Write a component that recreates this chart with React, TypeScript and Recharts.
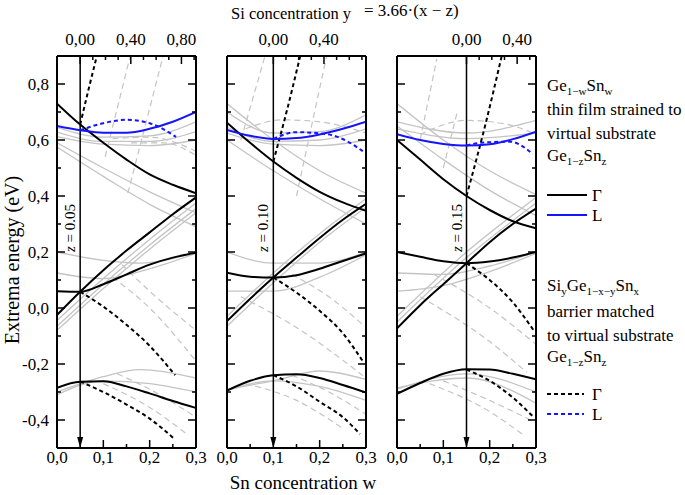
import { LineChart, Line, XAxis, YAxis, ReferenceLine } from "recharts";

type Pt = [number, number];

// plot box of every panel (page pixels)
const PANEL_LEFTS = [57, 227, 397];
const PLOT_W = 139;
const PLOT_TOP = 56;
const PLOT_BOTTOM = 448;
const PAGE_H = 495;

const W_TICKS = [0, 0.05, 0.1, 0.15, 0.2, 0.25, 0.3];
const E_TICKS = [-0.4, -0.3, -0.2, -0.1, 0, 0.1, 0.2, 0.3, 0.4, 0.5, 0.6, 0.7, 0.8];
const SI_TICKS = [0, 0.1, 0.2, 0.3, 0.4, 0.5, 0.6, 0.7, 0.8, 0.9];
const Z_VALUES = [0.05, 0.1, 0.15];

const BLACK = "#000";
const BLUE = "#1414ff";
const GRAY = "#c4c4c4";
const FONT = "Liberation Serif, Times New Roman, serif";

// ---- z = 0.05 ----
const A_G_CB: Pt[] = [[0, 0.73], [0.05, 0.655], [0.1, 0.59], [0.15, 0.53], [0.2, 0.477], [0.25, 0.44], [0.3, 0.41]];
const A_L: Pt[] = [[0, 0.65], [0.05, 0.635], [0.1, 0.626], [0.15, 0.626], [0.2, 0.64], [0.25, 0.665], [0.3, 0.7]];
const A_L_BAR: Pt[] = [[0.05, 0.635], [0.1, 0.66], [0.15, 0.672], [0.2, 0.66], [0.257, 0.611]];
const A_G_BAR_HI: Pt[] = [[0.05, 0.655], [0.068, 0.78], [0.086, 0.9]];
const A_G_UP: Pt[] = [[0, -0.025], [0.05, 0.058], [0.1, 0.135], [0.15, 0.205], [0.2, 0.27], [0.25, 0.335], [0.3, 0.395]];
const A_G_FLAT: Pt[] = [[0, 0.06], [0.05, 0.058], [0.1, 0.085], [0.15, 0.12], [0.2, 0.155], [0.25, 0.18], [0.3, 0.197]];
const A_G_BAR_MID: Pt[] = [[0.05, 0.058], [0.1, 0.005], [0.15, -0.06], [0.2, -0.135], [0.255, -0.24]];
const A_G_VB: Pt[] = [[0, -0.285], [0.05, -0.263], [0.1, -0.262], [0.15, -0.28], [0.2, -0.305], [0.25, -0.332], [0.3, -0.357]];
const A_G_BAR_VB: Pt[] = [[0.05, -0.263], [0.1, -0.3], [0.15, -0.345], [0.2, -0.395], [0.255, -0.47]];
const A_GRAY: Pt[][] = [
  [[0, 0.645], [0.1, 0.61], [0.2, 0.615], [0.3, 0.665]],
  [[0, 0.628], [0.1, 0.595], [0.2, 0.595], [0.3, 0.63]],
  [[0, 0.612], [0.1, 0.585], [0.2, 0.58], [0.3, 0.6]],
  [[0, 0.59], [0.1, 0.5], [0.2, 0.415], [0.3, 0.34]],
  [[0, 0.575], [0.1, 0.47], [0.2, 0.37], [0.3, 0.29]],
  [[0, -0.045], [0.1, 0.105], [0.2, 0.245], [0.3, 0.375]],
  [[0, -0.065], [0.1, 0.085], [0.2, 0.225], [0.3, 0.355]],
  [[0, -0.08], [0.1, 0.07], [0.2, 0.21], [0.3, 0.34]],
  [[0, 0.2], [0.1, 0.17], [0.18, 0.16], [0.3, 0.2]],
  [[0, 0.125], [0.1, 0.105], [0.2, 0.14], [0.3, 0.195]],
  [[0, -0.3], [0.1, -0.245], [0.18, -0.22], [0.3, -0.25]],
  [[0, -0.31], [0.1, -0.26], [0.2, -0.27], [0.3, -0.3]],
];
const A_GRAY_DASH: Pt[][] = [
  [[0.104, 0.54], [0.158, 0.9]],
  [[0.153, 0.41], [0.229, 0.9]],
  [[0.12, 0.605], [0.2, 0.61], [0.3, 0.56]],
  [[0.16, 0.59], [0.23, 0.59], [0.3, 0.545]],
  [[0.14, 0.155], [0.2, 0.06], [0.3, -0.08]],
  [[0.12, 0.11], [0.2, 0.0], [0.3, -0.19]],
  [[0.13, -0.235], [0.2, -0.29], [0.3, -0.39]],
  [[0.1, -0.27], [0.2, -0.355], [0.28, -0.45]],
];

// ---- z = 0.10 ----
const B_G_CB: Pt[] = [[0, 0.662], [0.05, 0.59], [0.1, 0.523], [0.15, 0.465], [0.2, 0.415], [0.25, 0.377], [0.3, 0.347]];
const B_L: Pt[] = [[0, 0.636], [0.05, 0.615], [0.1, 0.604], [0.15, 0.607], [0.2, 0.62], [0.25, 0.64], [0.3, 0.665]];
const B_L_BAR: Pt[] = [[0.1, 0.604], [0.15, 0.628], [0.215, 0.621], [0.26, 0.595], [0.293, 0.56]];
const B_G_BAR_HI: Pt[] = [[0.1, 0.523], [0.13, 0.71], [0.158, 0.9]];
const B_G_UP: Pt[] = [[0, -0.047], [0.05, 0.033], [0.1, 0.109], [0.15, 0.18], [0.2, 0.25], [0.25, 0.315], [0.3, 0.372]];
const B_G_FLAT: Pt[] = [[0, 0.126], [0.05, 0.112], [0.1, 0.109], [0.15, 0.117], [0.2, 0.14], [0.25, 0.168], [0.3, 0.195]];
const B_G_BAR_MID: Pt[] = [[0.1, 0.109], [0.15, 0.055], [0.2, -0.01], [0.25, -0.09], [0.293, -0.19]];
const B_G_VB: Pt[] = [[0, -0.295], [0.05, -0.26], [0.1, -0.24], [0.15, -0.237], [0.2, -0.25], [0.25, -0.275], [0.3, -0.302]];
const B_G_BAR_VB: Pt[] = [[0.1, -0.24], [0.15, -0.28], [0.2, -0.335], [0.25, -0.39], [0.287, -0.45]];
const B_GRAY: Pt[][] = [
  [[0, 0.73], [0.1, 0.6], [0.2, 0.49], [0.3, 0.41]],
  [[0, 0.6], [0.1, 0.49], [0.2, 0.39], [0.3, 0.3]],
  [[0, 0.7], [0.1, 0.625], [0.2, 0.63], [0.3, 0.69]],
  [[0, 0.645], [0.1, 0.595], [0.2, 0.6], [0.3, 0.64]],
  [[0, 0.625], [0.1, 0.585], [0.2, 0.58], [0.3, 0.6]],
  [[0, -0.03], [0.1, 0.125], [0.2, 0.265], [0.3, 0.39]],
  [[0, -0.065], [0.1, 0.09], [0.2, 0.235], [0.3, 0.36]],
  [[0, 0.2], [0.1, 0.16], [0.2, 0.16], [0.3, 0.2]],
  [[0, 0.06], [0.1, 0.06], [0.2, 0.11], [0.3, 0.19]],
  [[0, -0.29], [0.1, -0.26], [0.2, -0.225], [0.3, -0.255]],
  [[0, -0.295], [0.1, -0.26], [0.2, -0.28], [0.3, -0.33]],
];
const B_GRAY_DASH: Pt[][] = [
  [[0.03, 0.6], [0.082, 0.9]],
  [[0.15, 0.4], [0.215, 0.9]],
  [[0.04, 0.64], [0.12, 0.672], [0.2, 0.665], [0.3, 0.625]],
  [[0.14, 0.12], [0.22, 0.04], [0.3, -0.07]],
  [[0.03, 0.04], [0.15, -0.07], [0.3, -0.25]],
  [[0.04, -0.27], [0.15, -0.33], [0.25, -0.43]],
  [[0.14, -0.24], [0.22, -0.3], [0.3, -0.38]],
];

// ---- z = 0.15 ----
const C_G_CB: Pt[] = [[0, 0.6], [0.05, 0.53], [0.1, 0.46], [0.15, 0.4], [0.2, 0.35], [0.25, 0.31], [0.3, 0.285]];
const C_L: Pt[] = [[0, 0.621], [0.05, 0.6], [0.1, 0.586], [0.15, 0.58], [0.2, 0.585], [0.25, 0.603], [0.3, 0.63]];
const C_L_BAR: Pt[] = [[0.15, 0.58], [0.18, 0.59], [0.244, 0.594], [0.293, 0.55]];
const C_G_BAR_HI: Pt[] = [[0.15, 0.4], [0.19, 0.65], [0.226, 0.9]];
const C_G_UP: Pt[] = [[0, -0.073], [0.05, 0.01], [0.1, 0.085], [0.15, 0.16], [0.2, 0.235], [0.25, 0.3], [0.3, 0.355]];
const C_G_FLAT: Pt[] = [[0, 0.2], [0.05, 0.183], [0.1, 0.167], [0.15, 0.16], [0.2, 0.166], [0.25, 0.18], [0.3, 0.2]];
const C_G_BAR_MID: Pt[] = [[0.15, 0.16], [0.2, 0.1], [0.25, 0.02], [0.295, -0.08]];
const C_G_VB: Pt[] = [[0, -0.307], [0.05, -0.268], [0.1, -0.235], [0.15, -0.219], [0.2, -0.22], [0.25, -0.235], [0.3, -0.255]];
const C_G_BAR_VB: Pt[] = [[0.15, -0.22], [0.2, -0.26], [0.25, -0.32], [0.295, -0.39]];
const C_GRAY: Pt[][] = [
  [[0, 0.73], [0.1, 0.6], [0.2, 0.49], [0.3, 0.405]],
  [[0, 0.65], [0.1, 0.53], [0.2, 0.42], [0.3, 0.33]],
  [[0, 0.665], [0.15, 0.625], [0.3, 0.67]],
  [[0, 0.64], [0.15, 0.605], [0.3, 0.625]],
  [[0, -0.03], [0.15, 0.2], [0.3, 0.395]],
  [[0, -0.05], [0.15, 0.18], [0.3, 0.375]],
  [[0, 0.125], [0.1, 0.12], [0.2, 0.15], [0.3, 0.2]],
  [[0, 0.06], [0.1, 0.08], [0.2, 0.13], [0.3, 0.195]],
  [[0, -0.29], [0.15, -0.235], [0.3, -0.3]],
  [[0, -0.285], [0.15, -0.25], [0.3, -0.34]],
];
const C_GRAY_DASH: Pt[][] = [
  [[0.05, 0.6], [0.086, 0.89]],
  [[0.1, 0.5], [0.13, 0.7]],
  [[0.05, 0.62], [0.15, 0.67], [0.24, 0.655], [0.3, 0.62]],
  [[0.08, 0.12], [0.2, 0.0], [0.3, -0.13]],
  [[0.05, 0.04], [0.2, -0.12], [0.28, -0.23]],
  [[0.07, -0.27], [0.2, -0.37], [0.27, -0.45]],
  [[0.1, -0.26], [0.2, -0.33], [0.3, -0.41]],
];

const PANELS = [
  { gray: A_GRAY, grayDash: A_GRAY_DASH, gamma: [A_G_CB, A_G_UP, A_G_FLAT, A_G_VB], gammaBar: [A_G_BAR_HI, A_G_BAR_MID, A_G_BAR_VB], l: A_L, lBar: A_L_BAR },
  { gray: B_GRAY, grayDash: B_GRAY_DASH, gamma: [B_G_CB, B_G_UP, B_G_FLAT, B_G_VB], gammaBar: [B_G_BAR_HI, B_G_BAR_MID, B_G_BAR_VB], l: B_L, lBar: B_L_BAR },
  { gray: C_GRAY, grayDash: C_GRAY_DASH, gamma: [C_G_CB, C_G_UP, C_G_FLAT, C_G_VB], gammaBar: [C_G_BAR_HI, C_G_BAR_MID, C_G_BAR_VB], l: C_L, lBar: C_L_BAR },
];

const rows = (pts: Pt[]) => pts.map(([w, e]) => ({ w, e }));
const comma = (v: number, d: number) => v.toFixed(d).replace(".", ",");
const isStep = (v: number, step: number) => Math.abs(v / step - Math.round(v / step)) < 1e-6;

function BottomTick({ x, y, payload }: any) {
  const v = payload.value;
  const major = isStep(v, 0.1);
  return (
    <g>
      <line x1={x} x2={x} y1={y} y2={y - (major ? 8 : 4)} stroke={BLACK} strokeWidth={1.5} />
      {major && (
        <text x={x} y={y + 15} textAnchor="middle" fontSize={17} style={{ fontFamily: FONT }} fill={BLACK}>
          {comma(v, 1)}
        </text>
      )}
    </g>
  );
}

function TopTick({ x, y, payload, z }: any) {
  const si = Math.round((payload.value - z) * 3.66 * 10) / 10;
  const major = isStep(si, 0.4);
  return (
    <g>
      <line x1={x} x2={x} y1={y} y2={y + (major ? 8 : 4)} stroke={BLACK} strokeWidth={1.5} />
      {major && (
        <text x={x} y={y - 11} textAnchor="middle" fontSize={17} style={{ fontFamily: FONT }} fill={BLACK}>
          {comma(si, 2)}
        </text>
      )}
    </g>
  );
}

function SideTick({ x, y, payload, side, labels }: any) {
  const v = payload.value;
  const major = isStep(v, 0.2);
  const dir = side === "left" ? 1 : -1;
  return (
    <g>
      <line x1={x} x2={x + dir * (major ? 8 : 4)} y1={y} y2={y} stroke={BLACK} strokeWidth={1.5} />
      {labels && major && (
        <text x={x - 8} y={y + 6} textAnchor="end" fontSize={17} style={{ fontFamily: FONT }} fill={BLACK}>
          {comma(Math.abs(v) < 1e-9 ? 0 : v, 1)}
        </text>
      )}
    </g>
  );
}

function ZLine(props: any) {
  const { x1, y1, y2, z } = props;
  const top = Math.min(y1, y2);
  const bottom = Math.max(y1, y2);
  return (
    <g>
      <line x1={x1} x2={x1} y1={top} y2={bottom - 6} stroke={BLACK} strokeWidth={1.5} />
      <polygon points={`${x1 - 3},${bottom - 11} ${x1 + 3},${bottom - 11} ${x1},${bottom}`} fill={BLACK} />
      <text
        transform={`translate(${x1 - 5}, ${top + 172}) rotate(-90)`}
        textAnchor="middle"
        fontSize={15}
        style={{ fontFamily: FONT }}
        fill={BLACK}
      >
        <tspan fontStyle="italic">z</tspan> = {z.toFixed(2)}
      </text>
    </g>
  );
}

function Panel({ index }: { index: number }) {
  const p = PANELS[index];
  const z = Z_VALUES[index];
  const ml = index === 0 ? 57 : 25;
  const mr = 25;
  const topTicks = SI_TICKS.map((s) => z + s / 3.66).filter((w) => w <= 0.3 + 1e-9);
  const frame = { stroke: BLACK, strokeWidth: 2 };
  return (
    <div style={{ position: "absolute", left: PANEL_LEFTS[index] - ml, top: 0 }}>
      <LineChart
        width={ml + PLOT_W + mr}
        height={PAGE_H}
        margin={{ top: PLOT_TOP - 1, right: mr - 1, bottom: PAGE_H - PLOT_BOTTOM - 1, left: ml - 1 }}
      >
        <XAxis
          xAxisId="b"
          dataKey="w"
          type="number"
          domain={[0, 0.3]}
          allowDataOverflow
          ticks={W_TICKS}
          interval={0}
          height={1}
          tickSize={0}
          tickMargin={0}
          tickLine={false}
          axisLine={frame}
          tick={(t: any) => <BottomTick {...t} />}
        />
        <XAxis
          xAxisId="t"
          orientation="top"
          dataKey="w"
          type="number"
          domain={[0, 0.3]}
          allowDataOverflow
          ticks={topTicks}
          interval={0}
          height={1}
          tickSize={0}
          tickMargin={0}
          tickLine={false}
          axisLine={frame}
          tick={(t: any) => <TopTick {...t} z={z} />}
        />
        <YAxis
          yAxisId="l"
          type="number"
          domain={[-0.5, 0.9]}
          allowDataOverflow
          ticks={E_TICKS}
          interval={0}
          width={1}
          tickSize={0}
          tickMargin={0}
          tickLine={false}
          axisLine={frame}
          tick={(t: any) => <SideTick {...t} side="left" labels={index === 0} />}
        />
        <YAxis
          yAxisId="r"
          orientation="right"
          type="number"
          domain={[-0.5, 0.9]}
          allowDataOverflow
          ticks={E_TICKS}
          interval={0}
          width={1}
          tickSize={0}
          tickMargin={0}
          tickLine={false}
          axisLine={frame}
          tick={(t: any) => <SideTick {...t} side="right" labels={false} />}
        />
        {p.gray.map((c, i) => (
          <Line key={`g${i}`} xAxisId="b" yAxisId="l" data={rows(c)} dataKey="e" type="monotone"
            stroke={GRAY} strokeWidth={1.3} dot={false} activeDot={false} isAnimationActive={false} />
        ))}
        {p.grayDash.map((c, i) => (
          <Line key={`gd${i}`} xAxisId="b" yAxisId="l" data={rows(c)} dataKey="e" type="monotone"
            stroke={GRAY} strokeWidth={1.2} strokeDasharray="6 4" dot={false} activeDot={false} isAnimationActive={false} />
        ))}
        <ReferenceLine xAxisId="b" yAxisId="l" x={z} shape={(s: any) => <ZLine {...s} z={z} />} />
        {p.gammaBar.map((c, i) => (
          <Line key={`kd${i}`} xAxisId="b" yAxisId="l" data={rows(c)} dataKey="e" type="monotone"
            stroke={BLACK} strokeWidth={2} strokeDasharray="4 3" dot={false} activeDot={false} isAnimationActive={false} />
        ))}
        {p.gamma.map((c, i) => (
          <Line key={`k${i}`} xAxisId="b" yAxisId="l" data={rows(c)} dataKey="e" type="monotone"
            stroke={BLACK} strokeWidth={2} dot={false} activeDot={false} isAnimationActive={false} />
        ))}
        <Line xAxisId="b" yAxisId="l" data={rows(p.lBar)} dataKey="e" type="monotone"
          stroke={BLUE} strokeWidth={2} strokeDasharray="4 3" dot={false} activeDot={false} isAnimationActive={false} />
        <Line xAxisId="b" yAxisId="l" data={rows(p.l)} dataKey="e" type="monotone"
          stroke={BLUE} strokeWidth={2} dot={false} activeDot={false} isAnimationActive={false} />
      </LineChart>
    </div>
  );
}

function Sub({ children }: { children: string }) {
  return (
    <tspan fontSize={11} dy={4}>
      {children}
    </tspan>
  );
}

function Overlay() {
  const t = { style: { fontFamily: FONT }, fill: BLACK };
  return (
    <svg width={685} height={495} style={{ position: "absolute", left: 0, top: 0, pointerEvents: "none" }}>
      <text x={231} y={19} fontSize={16.5} {...t}>Si concentration y</text>
      <text x={364} y={16} fontSize={17} {...t}>= 3.66·(x − z)</text>
      <text transform="translate(19, 260) rotate(-90)" textAnchor="middle" fontSize={20} {...t}>
        Extrema energy (eV)
      </text>
      <text x={303} y={489} textAnchor="middle" fontSize={19} {...t}>Sn concentration w</text>

      <text x={547} y={91} fontSize={17} {...t}>
        Ge<Sub>1−w</Sub><tspan dy={-4}>Sn</tspan><Sub>w</Sub>
      </text>
      <text x={547} y={115} fontSize={17} {...t}>thin film strained to</text>
      <text x={547} y={139} fontSize={17} {...t}>virtual substrate</text>
      <text x={547} y={161} fontSize={17} {...t}>
        Ge<Sub>1−z</Sub><tspan dy={-4}>Sn</tspan><Sub>z</Sub>
      </text>
      <line x1={547} x2={587} y1={195} y2={195} stroke={BLACK} strokeWidth={2} />
      <text x={592} y={201} fontSize={17} {...t}>Γ</text>
      <line x1={547} x2={587} y1={215} y2={215} stroke={BLUE} strokeWidth={2} />
      <text x={592} y={221} fontSize={17} {...t}>L</text>

      <text x={547} y={291} fontSize={17} {...t}>
        Si<Sub>y</Sub><tspan dy={-4}>Ge</tspan><Sub>1−x−y</Sub><tspan dy={-4}>Sn</tspan><Sub>x</Sub>
      </text>
      <text x={547} y={317} fontSize={17} {...t}>barrier matched</text>
      <text x={547} y={341} fontSize={17} {...t}>to virtual substrate</text>
      <text x={547} y={362} fontSize={17} {...t}>
        Ge<Sub>1−z</Sub><tspan dy={-4}>Sn</tspan><Sub>z</Sub>
      </text>
      <line x1={547} x2={584} y1={394} y2={394} stroke={BLACK} strokeWidth={2} strokeDasharray="4 3" />
      <text x={592} y={400} fontSize={17} {...t}>Γ</text>
      <line x1={547} x2={584} y1={414} y2={414} stroke={BLUE} strokeWidth={2} strokeDasharray="4 3" />
      <text x={592} y={420} fontSize={17} {...t}>L</text>
    </svg>
  );
}

export default function App() {
  return (
    <div style={{ position: "absolute", left: 0, top: 0, width: 685, height: 495, background: "#fff", fontFamily: FONT }}>
      {[0, 1, 2].map((i) => (
        <Panel key={i} index={i} />
      ))}
      <Overlay />
    </div>
  );
}
